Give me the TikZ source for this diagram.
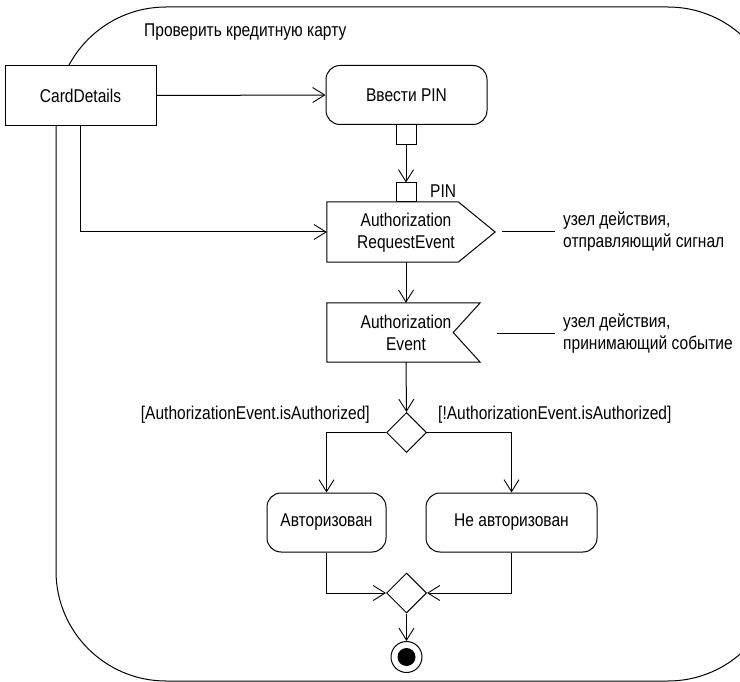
\documentclass[tikz,border=0pt]{standalone}
\usepackage{fontspec}
\setmainfont[FakeStretch=0.84]{Liberation Sans}
\usetikzlibrary{arrows.meta,shapes.geometric}
\newcommand\dfont{\fontsize{18.5}{22}\selectfont}
\tikzset{
  every node/.style={font=\dfont},
  ln/.style={line width=1pt, line join=miter},
  arr/.style={ln, -{Straight Barb[length=12pt,width=15pt,line width=0.9pt]}},
  objbox/.style={draw, ln, fill=white, minimum width=151pt, minimum height=60pt, inner sep=0pt},
  actbox/.style={draw, ln, fill=white, rounded corners=14pt, minimum height=59pt, inner sep=0pt},
  pinbox/.style={draw, ln, fill=white, minimum width=20pt, minimum height=20pt, inner sep=0pt},
  rectpart/.style={minimum width=131pt, minimum height=60pt, inner sep=0pt},
  txt/.style={align=center, inner sep=0pt},
  note/.style={align=left, anchor=west, inner sep=0pt},
  decision/.style={diamond, draw, ln, fill=white, minimum width=40pt, minimum height=40pt, inner sep=0pt},
}
\begin{document}
\begin{tikzpicture}[x=1pt,y=-1pt]
\fill[white] (0,0) rectangle (740,682);
\useasboundingbox (0,0) rectangle (740,682);
% frame
\begin{scope}
\clip (-1,-1) rectangle (740,683);
\draw[ln, rounded corners=110pt] (56,7) rectangle (778,681);
\end{scope}
\node[note] (title) at (144,32) {Проверить кредитную карту};
% nodes
\node[objbox] (cd) at (80.5,95.5) {CardDetails};
\node[actbox, minimum width=161pt] (pin) at (406.5,95) {Ввести PIN};
\node[pinbox] (op) at (406,135) {};
\node[pinbox, minimum height=19pt] (ip) at (406,192.5) {};
\node[note] (piny) at (430,191) {PIN};
% send signal
\node[rectpart] (are) at (392.5,232) {};
\draw[ln, fill=white] (are.north west) -- (are.north east) -- ([xshift=37pt]are.east) -- (are.south east) -- (are.south west) -- cycle;
\node[txt] (aret) at (406,233) {Authorization\\RequestEvent};
% accept event
\node[minimum width=153pt, minimum height=59pt, inner sep=0pt] (ae) at (403.5,332.5) {};
\draw[ln, fill=white] (ae.north west) -- (ae.north east) -- ([xshift=-27pt]ae.east) -- (ae.south east) -- (ae.south west) -- cycle;
\node[txt] (aet) at (406,333) {Authorization\\Event};
% callouts
\node[note] (n1) at (563,232) {узел действия,\\отправляющий сигнал};
\node[note] (n2) at (563,334) {узел действия,\\принимающий событие};
\coordinate (n1a) at (502,232);
\coordinate (n2a) at (497,333);
\draw[ln] (n1a) -- ([xshift=-8pt]n1.west);
\draw[ln] (n2a) -- ([xshift=-8pt]n2.west |- n2a);
% decision
\node[decision] (dec) at (406.5,432.5) {};
\node[txt, anchor=east] (g1) at (370,415) {[AuthorizationEvent.isAuthorized]};
\node[txt, anchor=west] (g2) at (438,415) {[!AuthorizationEvent.isAuthorized]};
\node[actbox, minimum width=119pt] (auth) at (326.5,522.5) {Авторизован};
\node[actbox, minimum width=171pt] (nauth) at (511.5,522.5) {Не авторизован};
\node[decision] (mrg) at (406.5,593) {};
\node[circle, draw, ln, fill=white, minimum size=31pt, inner sep=0pt] (fin) at (406.5,657) {};
\node[circle, fill=black, minimum size=18pt, inner sep=0pt] (fini) at (fin) {};
% connectors
\draw[arr] (cd.east) -- (pin.west);
\draw[arr] (op.south) -- (ip.north);
\draw[arr] (cd.south) |- (are.west);
\draw[arr] (are.south -| ip.south) -- (ae.north -| ip.south);
\draw[arr] (ae.south -| ip.south) -- (dec.north);
\draw[arr] (dec.west) -| (auth.north);
\draw[arr] (dec.east) -| (nauth.north);
\draw[arr] (auth.south) |- (mrg.west);
\draw[arr] (nauth.south) |- (mrg.east);
\draw[arr] (mrg.south) -- (fin.north);
\end{tikzpicture}
\end{document}
